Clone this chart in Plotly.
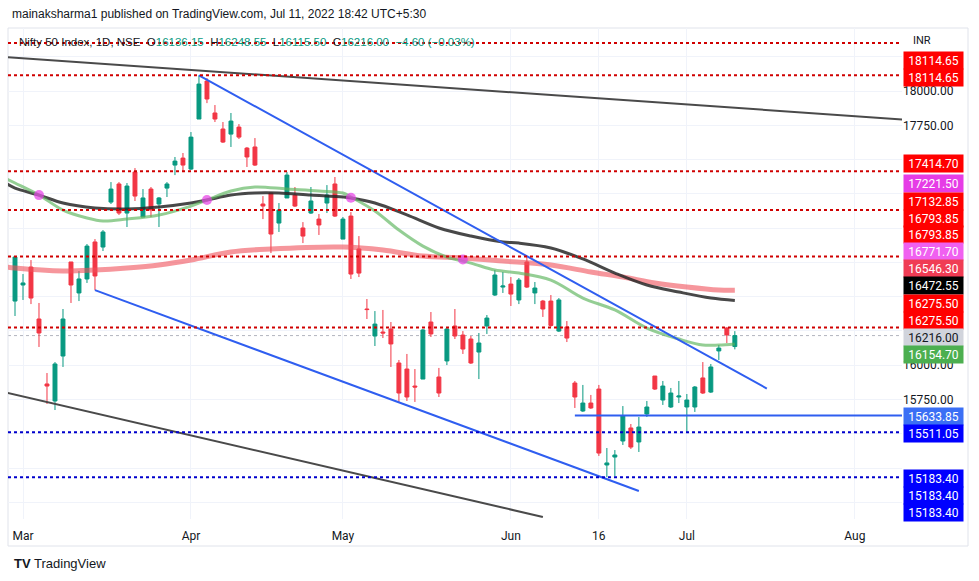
import plotly.graph_objects as go

# ---------------- DATA ----------------
dates = ["2022-02-28","2022-03-02","2022-03-03","2022-03-04","2022-03-07","2022-03-08","2022-03-09","2022-03-10","2022-03-11",
         "2022-03-14","2022-03-15","2022-03-16","2022-03-17","2022-03-21","2022-03-22","2022-03-23","2022-03-24","2022-03-25",
         "2022-03-28","2022-03-29","2022-03-30","2022-03-31","2022-04-01","2022-04-04","2022-04-05","2022-04-06","2022-04-07",
         "2022-04-08","2022-04-11","2022-04-12","2022-04-13","2022-04-18","2022-04-19","2022-04-20","2022-04-21","2022-04-22",
         "2022-04-25","2022-04-26","2022-04-27","2022-04-28","2022-04-29","2022-05-02","2022-05-04","2022-05-05","2022-05-06",
         "2022-05-09","2022-05-10","2022-05-11","2022-05-12","2022-05-13","2022-05-16","2022-05-17","2022-05-18","2022-05-19",
         "2022-05-20","2022-05-23","2022-05-24","2022-05-25","2022-05-26","2022-05-27","2022-05-30","2022-05-31","2022-06-01",
         "2022-06-02","2022-06-03","2022-06-06","2022-06-07","2022-06-08","2022-06-09","2022-06-10","2022-06-13","2022-06-14",
         "2022-06-15","2022-06-16","2022-06-17","2022-06-20","2022-06-21","2022-06-22","2022-06-23","2022-06-24","2022-06-27",
         "2022-06-28","2022-06-29","2022-06-30","2022-07-01","2022-07-04","2022-07-05","2022-07-06","2022-07-07","2022-07-08",
         "2022-07-11"]

opens = [16468,16585,16716,16337,15863,15739,16067,16753,16527,16629,16899,16862,17190,17322,17110,17409,17081,17285,
         17176,17292,17460,17511,17431,17796,18073,17840,17723,17686,17737,17584,17592,17176,17256,17037,17220,17241,
         17001,17110,17066,17183,17322,16920,17088,16848,16410,16213,16242,16264,16016,15972,15848,15899,16315,15914,
         16031,16286,16220,16191,16096,16286,16512,16570,16592,16476,16753,16527,16468,16468,16249,16279,15870,15666,
         15724,15826,15272,15330,15447,15542,15440,15644,15921,15746,15695,15768,15695,15695,15907,15804,16104,16271,
         16136.15]
highs = [16796,16665,16767,16454,15943,16023,16410,16753,16687,16884,16920,16986,17336,17336,17329,17438,17285,17300,
         17227,17336,17519,17548,17701,18114.65,18095,17898,17774,17840,17759,17592,17657,17234,17256,17183,17409,17300,
         17044,17300,17103,17314,17373,17081,17117,16942,16483,16395,16403,16315,16038,16082,15972,16264,16388,15980,
         16279,16410,16249,16213,16235,16366,16694,16680,16643,16636,16789,16607,16476,16512,16490,16322,15885,15856,
         15783,15856,15396,15381,15702,15571,15622,15739,15921,15885,15834,15885,15790,15848,16023,16009,16147,16279,
         16248.55]
lows = [16359,16476,16446,16133,15717,15673,15987,16454,16468,16600,16548,16833,17176,17096,17008,17198,17081,17081,
        17008,17227,17387,17409,17424,17796,17912,17774,17621,17592,17650,17446,17453,17066,16818,16972,17220,17154,
        16891,17103,16950,17110,17081,16920,16629,16643,16337,16140,16198,15987,15732,15739,15732,15899,16206,15768,
        16001,16191,16082,16009,15899,16228,16505,16527,16432,16446,16563,16446,16352,16280,16242,16169,15688,15659,
        15681,15338,15183.40,15190,15418,15389,15367,15622,15819,15710,15688,15724,15505,15659,15790,15797,16038,16162,
        16115.50]
closes = [16789,16600,16490,16235,15848,16009,16337,16585,16629,16869,16651,16972,17285,17110,17307,17234,17220,17132,
          17220,17322,17489,17460,17664,18051,17942,17796,17628,17781,17664,17519,17460,17161,16957,17132,17387,17161,
          16942,17198,17023,17241,17088,17066,16665,16672,16406,16300,16235,16155,15797,15768,15841,16257,16228,15797,
          16264,16213,16118,16016,16162,16344,16658,16578,16519,16621,16570,16563,16410,16290,16476,16198,15768,15724,
          15688,15359,15287,15345,15629,15403,15549,15695,15826,15848,15797,15775,15746,15841,15797,15987,16125,16220.60,
          16216.00]

# moving averages (bar index -> value)
ma_fast_idx = [-1,0,3,6,9,11,14,18,22,24,27,30,34,38,41,42,45,48,51,54,57,60,63,67,71,75,79,83,86,88,90]
ma_fast_val = [17358,17329,17241,17132,17074,17052,17066,17096,17161,17205,17271,17300,17285,17271,17256,17227,17125,
               16986,16869,16789,16745,16694,16672,16621,16490,16403,16271,16191,16147,16147,16154.70]
ma_mid_idx = [-1,0,3,6,10,14,18,22,24,27,30,33,37,41,42,45,49,53,57,61,63,67,71,75,79,83,87,90]
ma_mid_val = [17322,17292,17241,17183,17147,17139,17154,17183,17205,17241,17256,17256,17241,17227,17220,17183,17096,
              17001,16942,16899,16891,16855,16775,16672,16585,16534,16490,16472.55]
ma_slow_idx = [-1,0,6,10,14,18,22,27,32,41,46,51,56,61,67,72,76,80,84,88,90]
ma_slow_val = [16716,16709,16687,16694,16709,16731,16767,16826,16848,16862,16840,16796,16782,16760,16731,16680,16643,
               16600,16570,16548,16546.30]

cross_idx = [3, 24, 42, 56]
cross_val = [17241, 17205, 17221.50, 16771.70]

# drawings (bar index, price)
gray_top = ([-1, 112], [18248, 17788])
gray_low = ([-1, 66], [15799, 14893])
blue_upper = ([23, 94], [18114.65, 15830])
blue_lower = ([10, 78], [16548, 15082])
blue_flat = ([70, 112], [15633.85, 15633.85])

red_levels = [18350, 18114.65, 17414.70, 17132.85, 16793.85, 16275.50]
blue_levels = [15511.05, 15183.40]
last_price = 16216.00

tick_idx = [1, 22, 41, 62, 73, 84, 105]
tick_text = ["Mar", "Apr", "May", "Jun", "16", "Jul", "Aug"]

price_grid = [15000, 15250, 15500, 15750, 16000, 16250, 16500, 16750, 17000, 17250, 17500, 17750, 18000, 18250]
price_shown = [15750, 16000, 17750, 18000]

label_values = [18114.65, 18114.65, 17414.70, 17221.50, 17132.85, 16793.85, 16793.85, 16771.70, 16546.30,
                16472.55, 16275.50, 16275.50, 16216.00, 16154.70, 15633.85, 15511.05, 15183.40, 15183.40, 15183.40]

# ---------------- STYLE / LAYOUT ----------------
RED = "#ff0000"
label_colors = [RED, RED, RED, "#e63ce6", RED, RED, RED, "#f060f0", "#f03c54",
                "#000000", RED, RED, "#d1d4dc", "#4caf50", "#3b6ff5", "#0000ff", "#0000ff", "#0000ff", "#0000ff"]
label_slots_px = [60, 77, 164, 183, 201, 218, 234, 251, 268, 285, 303, 320, 337, 354, 416, 433, 478, 495, 512]

W, H = 979, 581
PL, PR, PT, PB = 8, 902, 28, 519


def py2paper(py):
    return (PB - py) / (PB - PT)


def px2paper(px):
    return (px - PL) / (PR - PL)


x = list(range(len(dates)))

fig = go.Figure()

# horizontal dotted levels
for lv in red_levels:
    fig.add_hline(y=lv, line=dict(color="#d00000", width=2, dash="dot"), layer="above")
for lv in blue_levels:
    fig.add_hline(y=lv, line=dict(color="#0000cc", width=2, dash="dot"), layer="above")
fig.add_hline(y=last_price, line=dict(color="#b2b5be", width=1, dash="dot"), layer="below")

# moving averages
fig.add_trace(go.Scatter(x=ma_slow_idx, y=ma_slow_val, mode="lines", line=dict(color="rgba(240,80,90,0.6)", width=5, shape="spline"),
                         hoverinfo="skip"))
fig.add_trace(go.Scatter(x=ma_mid_idx, y=ma_mid_val, mode="lines", line=dict(color="rgba(40,40,40,0.85)", width=3, shape="spline"),
                         hoverinfo="skip"))
fig.add_trace(go.Scatter(x=ma_fast_idx, y=ma_fast_val, mode="lines", line=dict(color="rgba(90,180,90,0.65)", width=3, shape="spline"),
                         hoverinfo="skip"))

# candles
fig.add_trace(go.Candlestick(x=x, open=opens, high=highs, low=lows, close=closes,
                             increasing=dict(line=dict(color="#089981", width=1), fillcolor="#089981"),
                             decreasing=dict(line=dict(color="#f23645", width=1), fillcolor="#f23645"),
                             whiskerwidth=0, hoverinfo="skip"))

# cross dots
fig.add_trace(go.Scatter(x=cross_idx, y=cross_val, mode="markers",
                         marker=dict(color="rgba(230,60,230,0.7)", size=10), hoverinfo="skip"))

# trend lines
for (lx, ly), col in [(gray_top, "#4a4a4a"), (gray_low, "#4a4a4a"), (blue_upper, "#2f5ef0"),
                      (blue_lower, "#2f5ef0"), (blue_flat, "#2f5ef0")]:
    fig.add_trace(go.Scatter(x=lx, y=ly, mode="lines", line=dict(color=col, width=2), hoverinfo="skip"))

# price labels on right scale
for val, col, py in zip(label_values, label_colors, label_slots_px):
    txt_col = "#131722" if col == "#d1d4dc" else "#ffffff"
    fig.add_annotation(xref="paper", yref="paper", x=px2paper(PR + 1), y=py2paper(py), xanchor="left", yanchor="middle",
                       text=f"{val:.2f}", showarrow=False, bgcolor=col, width=57, height=15, borderpad=1,
                       font=dict(family="Roboto, Arial", size=12, color=txt_col), align="center")

fig.add_annotation(xref="paper", yref="paper", x=px2paper(911), y=py2paper(41), xanchor="left", yanchor="middle",
                   text="INR", showarrow=False, font=dict(family="Roboto, Arial", size=11, color="#131722"))

# header texts
fig.add_annotation(xref="paper", yref="paper", x=px2paper(10), y=py2paper(14), xanchor="left", yanchor="middle",
                   text="mainaksharma1 published on TradingView.com, Jul 11, 2022 18:42 UTC+5:30", showarrow=False,
                   font=dict(family="Liberation Sans, Arial", size=12, color="#131722"))
G = "#089981"
legend_txt = ("Nifty 50 Index, 1D, NSE  "
              f"O<span style='color:{G}'>16136.15</span>  H<span style='color:{G}'>16248.55</span>  "
              f"L<span style='color:{G}'>16115.50</span>  C<span style='color:{G}'>16216.00</span>  "
              f"<span style='color:{G}'>−4.60 (−0.03%)</span>")
fig.add_annotation(xref="paper", yref="paper", x=px2paper(17), y=py2paper(42), xanchor="left", yanchor="middle",
                   text=legend_txt, showarrow=False, font=dict(family="Liberation Sans, Arial", size=11.5, color="#131722"))
fig.add_annotation(xref="paper", yref="paper", x=px2paper(12), y=py2paper(563), xanchor="left", yanchor="middle",
                   text="<b>TV</b> TradingView", showarrow=False,
                   font=dict(family="Liberation Sans, Arial", size=13, color="#131722"))

# panel border
fig.add_shape(type="rect", xref="paper", yref="paper", x0=0, x1=px2paper(968), y0=py2paper(546), y1=1,
              line=dict(color="#e0e3eb", width=1), layer="below")

fig.update_layout(
    width=W, height=H, margin=dict(l=PL, r=W - PR, t=PT, b=H - PB),
    paper_bgcolor="white", plot_bgcolor="white", showlegend=False,
    xaxis=dict(range=[-0.875, 110.9], tickvals=tick_idx, ticktext=tick_text, showgrid=True, gridcolor="#f0f3fa",
               zeroline=False, rangeslider=dict(visible=False), ticklabelstandoff=8,
               tickfont=dict(family="Roboto, Arial", size=12, color="#131722"), fixedrange=True),
    yaxis=dict(range=[14878, 18460], side="right", tickvals=price_grid,
               ticktext=[f"{v:.2f}" if v in price_shown else "" for v in price_grid],
               showgrid=True, gridcolor="#f0f3fa", zeroline=False,
               tickfont=dict(family="Roboto, Arial", size=12, color="#131722")),
)

fig.write_html("out.html")
